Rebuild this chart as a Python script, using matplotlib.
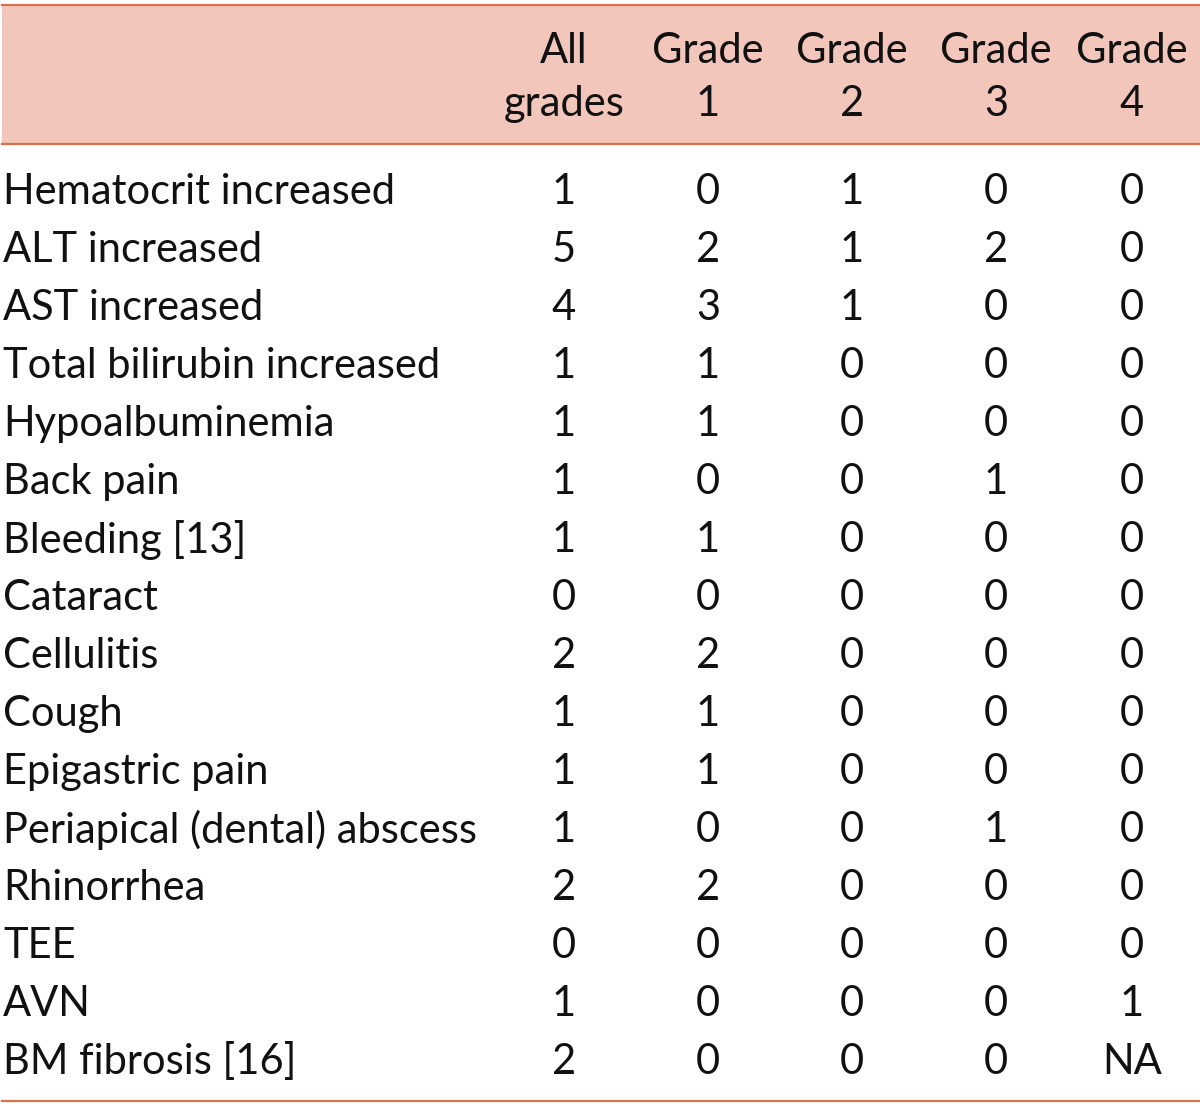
import matplotlib.pyplot as plt
from matplotlib.patches import Rectangle

plt.rcParams['font.family'] = ['Lato', 'DejaVu Sans']

# table content
events = ["Hematocrit increased", "ALT increased", "AST increased",
          "Total bilirubin increased", "Hypoalbuminemia", "Back pain",
          "Bleeding [13]", "Cataract", "Cellulitis", "Cough",
          "Epigastric pain", "Periapical (dental) abscess", "Rhinorrhea",
          "TEE", "AVN", "BM fibrosis [16]"]
headers = ["All\ngrades", "Grade\n1", "Grade\n2", "Grade\n3", "Grade\n4"]
all_grades = ["1", "5", "4", "1", "1", "1", "1", "0", "2", "1", "1", "1", "2", "0", "1", "2"]
grade1 = ["0", "2", "3", "1", "1", "0", "1", "0", "2", "1", "1", "0", "2", "0", "0", "0"]
grade2 = ["1", "1", "1", "0", "0", "0", "0", "0", "0", "0", "0", "0", "0", "0", "0", "0"]
grade3 = ["0", "2", "0", "0", "0", "1", "0", "0", "0", "0", "0", "1", "0", "0", "0", "0"]
grade4 = ["0", "0", "0", "0", "0", "0", "0", "0", "0", "0", "0", "0", "0", "0", "1", "NA"]
columns = [all_grades, grade1, grade2, grade3, grade4]

W, H = 1200, 1107
fig = plt.figure(figsize=(W / 100, H / 100), dpi=100)
ax = fig.add_axes([0, 0, 1, 1])
ax.set_xlim(0, W)
ax.set_ylim(H, 0)
ax.axis('off')

line_col = '#D8724C'
fill_col = '#F2C6BA'

# header band
ax.add_patch(Rectangle((2, 4), W - 2, 140, facecolor=fill_col, edgecolor='none'))
ax.plot([2, W], [4.5, 4.5], color=line_col, lw=1.6)
ax.plot([2, W], [144, 144], color=line_col, lw=1.6)
ax.plot([2, W], [1101, 1101], color=line_col, lw=1.6)

col_x = [564, 708, 852, 996, 1132]
fs = 30

for x, h in zip(col_x, headers):
    top, bot = h.split("\n")
    ax.text(x, 51, top, ha='center', va='center', fontsize=fs, color='#111111')
    ax.text(x, 104, bot, ha='center', va='center', fontsize=fs, color='#111111')

row_y0, row_dy = 192, 58
for i, ev in enumerate(events):
    y = row_y0 + i * row_dy
    ax.text(3, y, ev, ha='left', va='center', fontsize=fs, color='#111111')
    for x, col in zip(col_x, columns):
        ax.text(x, y, col[i], ha='center', va='center', fontsize=fs, color='#111111')

fig.savefig('out.png', dpi=100)
